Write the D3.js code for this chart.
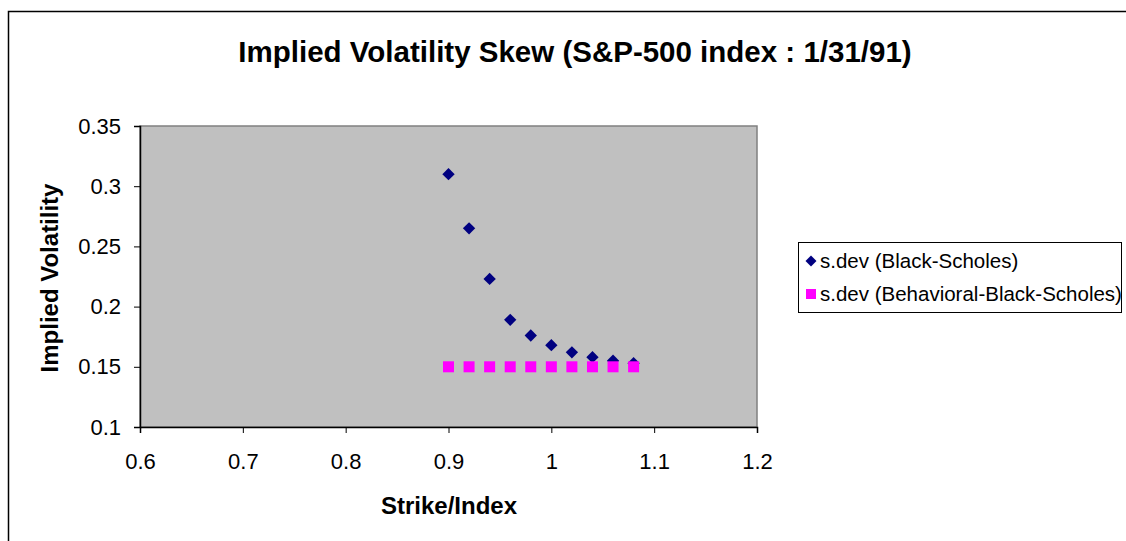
<!DOCTYPE html>
<html>
<head>
<meta charset="utf-8">
<script src="https://cdn.jsdelivr.net/npm/d3@7"></script>
<style>
  body { margin: 0; background: #fff; }
  text { font-family: "Liberation Sans", Arial, sans-serif; }
</style>
</head>
<body>
<script>
// data
var strikes = [0.90, 0.92, 0.94, 0.96, 0.98, 1.00, 1.02, 1.04, 1.06, 1.08];
var bsVol = [0.310, 0.265, 0.223, 0.189, 0.176, 0.168, 0.162, 0.158, 0.155, 0.153];
var bbsVol = [0.15, 0.15, 0.15, 0.15, 0.15, 0.15, 0.15, 0.15, 0.15, 0.15];
var xTicks = [0.6, 0.7, 0.8, 0.9, 1, 1.1, 1.2];
var yTicks = [0.1, 0.15, 0.2, 0.25, 0.3, 0.35];
var seriesNames = ["s.dev (Black-Scholes)", "s.dev (Behavioral-Black-Scholes)"];

var width = 1126, height = 541;
var plot = { left: 140, top: 126, right: 757, bottom: 427 };

var svg = d3.select("body").append("svg")
  .attr("width", width)
  .attr("height", height);

// outer chart border
svg.append("rect")
  .attr("x", 8.5).attr("y", 11.5)
  .attr("width", 1130).attr("height", 540)
  .attr("fill", "#fff")
  .attr("stroke", "#000")
  .attr("stroke-width", 1.5);

var x = d3.scaleLinear().domain([0.6, 1.2]).range([plot.left, plot.right]);
var y = d3.scaleLinear().domain([0.1, 0.35]).range([plot.bottom, plot.top]);

// plot area
svg.append("rect")
  .attr("x", plot.left).attr("y", plot.top)
  .attr("width", plot.right - plot.left)
  .attr("height", plot.bottom - plot.top)
  .attr("fill", "#c0c0c0")
  .attr("stroke", "#808080")
  .attr("stroke-width", 1.5);

// axes
var xAxis = svg.append("g")
  .attr("transform", "translate(0," + plot.bottom + ")")
  .call(d3.axisBottom(x).tickValues(xTicks).tickSize(6).tickPadding(18)
    .tickFormat(function(d) { return String(d); }));
var yAxis = svg.append("g")
  .attr("transform", "translate(" + plot.left + ",0)")
  .call(d3.axisLeft(y).tickValues(yTicks).tickSize(6).tickPadding(13)
    .tickFormat(function(d) { return String(d); }));

[xAxis, yAxis].forEach(function(g) {
  g.select(".domain").attr("stroke", "#000").attr("stroke-width", 1.5);
  g.selectAll(".tick line").attr("stroke", "#000");
  g.selectAll(".tick text")
    .attr("fill", "#000")
    .style("font-size", "22px")
    .style("font-family", "'Liberation Sans', Arial, sans-serif");
});
xAxis.selectAll(".tick text").attr("dy", "0.8em");

// title and axis labels
svg.append("text")
  .attr("x", 575).attr("y", 62)
  .attr("text-anchor", "middle")
  .style("font-size", "29.5px").style("font-weight", "bold")
  .text("Implied Volatility Skew (S&P-500 index : 1/31/91)");

svg.append("text")
  .attr("x", 449).attr("y", 514)
  .attr("text-anchor", "middle")
  .style("font-size", "24px").style("font-weight", "bold")
  .text("Strike/Index");

svg.append("text")
  .attr("transform", "translate(58,278) rotate(-90)")
  .attr("text-anchor", "middle")
  .style("font-size", "24px").style("font-weight", "bold")
  .text("Implied Volatility");

// series
var diamond = d3.symbol().type(d3.symbolSquare).size(76);

svg.append("g").selectAll("path")
  .data(strikes)
  .enter().append("path")
  .attr("d", diamond)
  .attr("transform", function(d, i) {
    return "translate(" + x(d) + "," + y(bsVol[i]) + ") rotate(45)";
  })
  .attr("fill", "#000080");

svg.append("g").selectAll("rect")
  .data(strikes)
  .enter().append("rect")
  .attr("x", function(d) { return x(d) - 5.5; })
  .attr("y", function(d, i) { return y(bbsVol[i]) - 5.5; })
  .attr("width", 11).attr("height", 11)
  .attr("fill", "#ff00ff");

// legend
var legend = svg.append("g");
legend.append("rect")
  .attr("x", 798.5).attr("y", 242.5)
  .attr("width", 323).attr("height", 70)
  .attr("fill", "#fff")
  .attr("stroke", "#000");

legend.append("path")
  .attr("d", d3.symbol().type(d3.symbolSquare).size(60))
  .attr("transform", "translate(811,261) rotate(45)")
  .attr("fill", "#000080");
legend.append("rect")
  .attr("x", 806).attr("y", 289)
  .attr("width", 10).attr("height", 10)
  .attr("fill", "#ff00ff");

legend.selectAll("text")
  .data(seriesNames)
  .enter().append("text")
  .attr("x", 820)
  .attr("y", function(d, i) { return 268 + i * 33; })
  .style("font-size", "20.5px")
  .text(function(d) { return d; });
</script>
</body>
</html>
